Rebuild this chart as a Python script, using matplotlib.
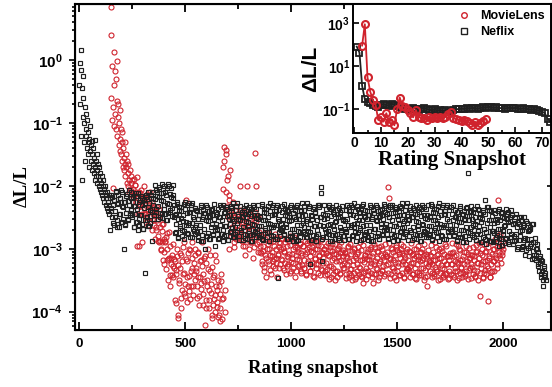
import numpy as np
import matplotlib.pyplot as plt
from matplotlib.lines import Line2D
from matplotlib.ticker import MultipleLocator, FixedLocator, NullLocator, LogLocator

plt.rcParams['font.family'] = 'Liberation Sans'
plt.rcParams['font.weight'] = 'bold'
plt.rcParams['mathtext.fontset'] = 'custom'
plt.rcParams['mathtext.rm'] = 'Liberation Sans:bold'
plt.rcParams['mathtext.bf'] = 'Liberation Sans:bold'
plt.rcParams['mathtext.default'] = 'bf'

# values below are log10(dL/L) * 100
# Netflix, snapshots 0..148 every 2
nf_head = [-40, -5, -70, -15, -120, 16, -45, -190, -90, -25, -60, -130, -100, -75, -160, -110,
           -85, -120, -140, -95, -150, -115, -130, -170, -125, -145, -105, -160, -135, -175, -150, -128,
           -165, -140, -180, -155, -127, -190, -170, -160, -185, -150, -175, -195, -165, -185, -200, -170,
           -190, -205, -180, -210, -195, -185, -215, -200, -220, -190, -205, -225, -210, -200, -230, -215,
           -220, -235, -210, -240, -225, -215, -245, -230, -220, -270, -235]
# Netflix, snapshots 150.. every 4
nf_body = [-215, -250, -230, -263, -223, -240, -210, -255, -227, -265, -220, -245, -207, -257, -233, -300, -261, -225, -243, -213, -253, -230, -247, -209, -238,
           -250, -218, -265, -232, -212, -258, -237, -270, -225, -246, -216, -260, -230, -268, -222, -338, -214, -254, -234, -264, -228, -248, -220, -287, -210,
           -220, -247, -199, -237, -209, -253, -217, -205, -243, -223, -251, -211, -231, -201, -245, -215, -255, -197, -229, -213, -241, -203, -235, -219, -249,
           -275, -245, -261, -229, -283, -239, -267, -251, -233, -279, -247, -271, -225, -257, -275, -231, -263, -241, -281, -237, -259, -227, -269, -253, -277,
           -238, -273, -253, -286, -246, -263, -233, -278, -250, -288, -243, -300, -230, -280, -256, -240, -284, -248, -266, -236, -276, -253, -270, -296, -261,
           -268, -236, -283, -250, -230, -276, -255, -288, -243, -264, -234, -278, -248, -286, -240, -260, -232, -272, -252, -282, -246, -266, -238, -274, -228,
           -253, -280, -232, -270, -242, -286, -250, -238, -276, -256, -284, -244, -264, -234, -278, -248, -288, -230, -262, -246, -274, -236, -268, -252, -282,
           -278, -248, -264, -232, -286, -242, -270, -254, -236, -282, -250, -274, -228, -260, -278, -234, -266, -244, -284, -240, -262, -230, -346, -256, -280,
           -261, -232, -270, -253, -276, -236, -266, -248, -284, -240, -256, -280, -230, -268, -243, -288, -250, -278, -233, -263, -246, -286, -253, -273, -238,
           -228, -274, -238, -266, -246, -282, -252, -272, -232, -260, -324, -286, -248, -278, -234, -264, -243, -288, -255, -276, -230, -250, -202, -212, -319,
           -282, -252, -268, -236, -274, -246, -262, -230, -288, -248, -278, -234, -264, -244, -284, -256, -276, -238, -250, -286, -242, -270, -232, -280, -253,
           -280, -256, -272, -230, -262, -240, -284, -244, -266, -234, -278, -260, -228, -274, -250, -282, -236, -254, -270, -242, -286, -232, -264, -248, -278,
           -238, -273, -253, -286, -246, -263, -233, -278, -250, -288, -243, -268, -230, -280, -256, -240, -284, -248, -266, -236, -276, -253, -270, -232, -261,
           -268, -236, -283, -250, -230, -276, -255, -288, -243, -264, -234, -278, -248, -286, -240, -260, -232, -272, -252, -282, -246, -266, -238, -274, -228,
           -253, -280, -232, -270, -242, -286, -250, -238, -276, -256, -284, -244, -264, -234, -278, -248, -288, -230, -262, -246, -274, -236, -268, -252, -282,
           -278, -248, -264, -232, -286, -242, -270, -254, -236, -282, -250, -274, -228, -260, -278, -234, -266, -244, -284, -240, -262, -230, -272, -256, -280,
           -263, -234, -272, -255, -278, -238, -268, -250, -286, -242, -258, -282, -232, -270, -245, -290, -252, -280, -235, -265, -248, -180, -255, -275, -240,
           -232, -278, -242, -270, -250, -286, -256, -276, -236, -264, -244, -290, -252, -282, -238, -268, -223, -292, -259, -280, -234, -254, -287, -240, -272,
           -289, -259, -275, -243, -281, -253, -269, -237, -295, -255, -285, -241, -271, -251, -291, -263, -283, -245, -257, -293, -249, -277, -239, -287, -260,
           -288, -259, -276, -245, -300, -257, -286, -271, -254, -301, -270, -295, -250, -283, -302, -259, -292, -271, -312, -269, -292, -261, -304, -289, -314,
           -290, -318, -300, -325, -305, -335, -312, -345, -320, -350, -330, -342, -338]
# Netflix, snapshots 152.. every 4 (the points in between)
nf_body2 = [-240, -217, -259, -223, -249, -208, -265, -229, -215, -245, -220, -257, -232, -210, -252, -226, -262, -216, -237, -224, -255, -206, -243, -219, -247,
            -226, -266, -232, -244, -216, -258, -212, -252, -262, -223, -246, -219, -268, -235, -228, -255, -217, -249, -210, -264, -238, -259, -214, -241, -230,
            -253, -221, -206, -241, -216, -232, -202, -250, -212, -197, -245, -224, -236, -209, -254, -203, -228, -243, -200, -238, -218, -248, -214, -198, -231,
            -246, -274, -226, -282, -252, -234, -264, -240, -270, -256, -229, -284, -237, -262, -243, -276, -228, -259, -241, -231, -281, -249, -271, -235, -266,
            -263, -240, -282, -246, -272, -231, -288, -252, -238, -268, -243, -280, -255, -233, -275, -249, -285, -239, -260, -247, -278, -229, -266, -242, -270,
            -244, -284, -250, -262, -234, -276, -230, -270, -280, -241, -264, -237, -286, -253, -246, -273, -235, -267, -228, -282, -256, -277, -232, -259, -248,
            -286, -254, -239, -274, -249, -265, -235, -283, -245, -230, -278, -257, -269, -242, -287, -236, -261, -276, -233, -271, -251, -281, -247, -231, -264,
            -249, -277, -229, -285, -255, -237, -267, -243, -273, -259, -232, -287, -240, -265, -246, -279, -231, -262, -244, -234, -284, -252, -274, -238, -269,
            -270, -242, -266, -229, -278, -247, -260, -239, -285, -249, -275, -233, -255, -280, -243, -268, -238, -252, -288, -231, -272, -246, -282, -240, -263,
            -248, -259, -232, -277, -256, -282, -228, -267, -235, -273, -246, -253, -286, -237, -264, -241, -280, -270, -230, -276, -234, -262, -250, -284, -244,
            -264, -231, -247, -281, -251, -271, -233, -276, -261, -236, -287, -242, -269, -257, -278, -230, -245, -283, -235, -265, -249, -274, -239, -254, -286,
            -269, -238, -274, -252, -284, -234, -244, -262, -231, -279, -246, -265, -240, -287, -232, -259, -273, -243, -267, -237, -255, -285, -229, -277, -249,
            -263, -240, -282, -246, -272, -231, -288, -252, -238, -268, -243, -280, -255, -233, -275, -249, -285, -239, -260, -247, -278, -229, -266, -242, -270,
            -244, -284, -250, -262, -234, -276, -230, -270, -280, -241, -264, -237, -286, -253, -246, -273, -235, -267, -228, -282, -256, -277, -232, -259, -248,
            -286, -254, -239, -274, -249, -265, -235, -283, -245, -230, -278, -257, -269, -242, -287, -236, -261, -276, -233, -271, -251, -281, -247, -231, -264,
            -249, -277, -229, -285, -255, -237, -267, -243, -273, -259, -232, -287, -240, -265, -246, -279, -231, -262, -244, -234, -284, -252, -274, -238, -269,
            -272, -244, -268, -231, -280, -249, -262, -241, -287, -251, -277, -235, -257, -282, -245, -270, -240, -254, -290, -233, -274, -248, -284, -242, -265,
            -252, -263, -236, -281, -260, -286, -232, -271, -239, -277, -250, -257, -290, -241, -268, -245, -284, -274, -234, -280, -238, -266, -254, -288, -248,
            -271, -238, -254, -288, -258, -278, -240, -283, -268, -243, -294, -249, -276, -264, -285, -237, -252, -290, -242, -272, -256, -281, -246, -261, -293,
            -279, -249, -286, -265, -298, -249, -260, -279, -249, -298, -266, -286, -262, -310, -256, -284, -299, -270, -295, -266, -285, -316, -261, -310, -283,
            -300, -310, -292, -328, -315, -322, -340, -318, -335, -360, -328, -345, -350]

# MovieLens, snapshots 148..246 every 2
ml_head = [85, -60, 40, -95, -10, -204, -75, 13, -105, -40,
           -85, -18, -110, -30, -65, -1, -120, -90, -70, -135,
           -100, -145, -80, -125, -150, -110, -160, -130, -115, -170,
           -140, -155, -175, -130, -165, -185, -150, -170, -195, -160,
           -180, -200, -165, -190, -210, -175, -205, -195, -215, -185]
# MovieLens, snapshots 250.. every 4
ml_body = [-190, -205, -215, -198, -225, -210, -295, -220, -232, -212, -240, -225, -290, -218, -245, -230, -250, -222, -238, -262, -228, -248, -240, -270, -235,
           -245, -262, -238, -270, -255, -280, -248, -290, -265, -300, -272, -318, -285, -305, -290, -332, -300, -350, -315, -295, -360, -325, -310, -345, -330,
           -320, -387, -340, -300, -410, -355, -330, -395, -310, -365, -340, -290, -375, -223, -345, -320, -360, -300, -380, -335, -315, -290, -360, -340, -310,
           -330, -360, -305, -345, -375, -320, -355, -290, -340, -390, -315, -421, -382, -350, -300, -365, -395, -335, -370, -410, -345, -380, -310, -400, -360,
           -393, -350, -405, -372, -415, -340, -380, -170, -138, -400, -210, -143, -190, -250, -223, -175, -280, -240, -265, -225, -290, -250, -232, -270, -245,
           -255, -275, -200, -285, -260, -295, -240, -270, -310, -250, -200, -280, -265, -300, -245, -290, -270, -315, -255, -285, -148, -200, -275, -305, -290,
           -280, -305, -270, -320, -295, -335, -285, -310, -345, -300, -275, -325, -310, -290, -340, -305, -320, -295, -330, -315, -300, -345, -310, -290, -325,
           -300, -318, -285, -330, -305, -290, -340, -312, -296, -325, -308, -280, -335, -315, -300, -322, -290, -345, -310, -298, -328, -305, -318, -292, -335,
           -310, -295, -330, -318, -288, -340, -305, -322, -298, -335, -312, -290, -328, -305, -345, -315, -300, -325, -290, -338, -310, -320, -296, -332, -305,
           -315, -300, -335, -322, -295, -340, -310, -328, -302, -345, -318, -292, -330, -308, -350, -320, -300, -335, -312, -295, -340, -318, -305, -330, -312,
           -322, -305, -340, -315, -298, -345, -320, -332, -308, -350, -318, -300, -338, -312, -345, -325, -305, -340, -318, -330, -302, -345, -354, -315, -335,
           -310, -330, -305, -342, -318, -300, -338, -322, -312, -354, -325, -298, -340, -315, -332, -305, -345, -320, -310, -335, -300, -328, -318, -340, -312,
           -305, -325, -202, -220, -315, -340, -300, -330, -318, -345, -310, -298, -335, -322, -305, -342, -315, -300, -338, -320, -310, -345, -325, -305, -332,
           -318, -335, -305, -345, -322, -310, -340, -315, -330, -300, -348, -325, -312, -338, -320, -305, -342, -318, -330, -310, -345, -322, -312, -359, -328,
           -320, -335, -312, -345, -325, -305, -340, -318, -332, -310, -350, -322, -300, -338, -315, -330, -345, -320, -308, -340, -325, -312, -348, -318, -335,
           -312, -340, -325, -305, -345, -320, -335, -310, -350, -322, -300, -338, -318, -330, -345, -312, -325, -340, -305, -335, -320, -348, -315, -330, -310,
           -325, -310, -340, -318, -345, -305, -335, -322, -350, -315, -375, -330, -310, -345, -320, -338, -305, -340, -318, -383, -330, -312, -345, -325, -335,
           -320, -300, -335, -310, -290, -325, -223, -305, -280, -315, -295, -310, -300]
# MovieLens, snapshots 252.. every 4 (the points in between)
ml_body2 = [-210, -189, -232, -198, -225, -186, -245, -210, -295, -229, -206, -245, -221, -201, -244, -220, -258, -213, -236, -224, -257, -210, -248, -226, -255,
            -233, -284, -247, -265, -234, -288, -236, -287, -302, -260, -290, -261, -324, -287, -282, -318, -275, -317, -273, -342, -314, -342, -292, -327, -317,
            -382, -334, -312, -405, -326, -350, -306, -378, -320, -298, -370, -338, -356, -316, -384, -307, -344, -367, -302, -360, -330, -374, -323, -300, -349,
            -336, -378, -306, -390, -345, -318, -364, -328, -372, -352, -311, -394, -323, -360, -332, -382, -310, -356, -329, -405, -389, -341, -374, -320, -366,
            -385, -408, -360, -395, -352, -412, -378, -205, -160, -365, -150, -232, -185, -300, -215, -260, -245, -275, -228, -298, -255, -238, -285, -262, -248,
            -280, -252, -276, -239, -288, -257, -270, -249, -295, -259, -285, -243, -265, -290, -253, -278, -248, -262, -298, -241, -282, -256, -292, -250, -273,
            -295, -306, -279, -324, -303, -329, -275, -314, -282, -320, -293, -300, -333, -284, -311, -288, -327, -317, -277, -323, -281, -309, -297, -331, -291,
            -316, -283, -299, -333, -303, -323, -285, -328, -313, -288, -339, -294, -321, -309, -330, -282, -297, -335, -287, -317, -301, -326, -291, -306, -338,
            -326, -295, -331, -309, -341, -291, -301, -319, -288, -336, -303, -322, -297, -344, -289, -316, -330, -300, -324, -294, -312, -342, -286, -334, -306,
            -323, -300, -342, -306, -332, -291, -348, -312, -298, -328, -303, -340, -315, -293, -335, -309, -345, -299, -320, -307, -338, -289, -326, -302, -330,
            -306, -346, -312, -324, -296, -338, -292, -332, -342, -303, -326, -299, -348, -315, -308, -335, -297, -329, -290, -344, -318, -339, -294, -321, -310,
            -348, -316, -301, -336, -311, -327, -297, -345, -307, -292, -340, -319, -331, -304, -349, -298, -323, -338, -295, -333, -313, -343, -309, -293, -326,
            -311, -339, -291, -347, -317, -299, -329, -305, -335, -321, -294, -349, -302, -327, -308, -341, -293, -324, -306, -296, -346, -314, -336, -300, -331,
            -332, -304, -328, -291, -340, -309, -322, -301, -347, -311, -337, -295, -317, -342, -305, -330, -300, -314, -350, -293, -334, -308, -344, -302, -325,
            -310, -321, -294, -339, -318, -344, -290, -329, -297, -335, -308, -315, -348, -299, -326, -303, -342, -332, -292, -338, -296, -324, -312, -346, -306,
            -324, -291, -307, -341, -311, -331, -293, -336, -321, -296, -347, -302, -329, -317, -338, -290, -305, -343, -295, -325, -309, -334, -299, -314, -346,
            -329, -298, -334, -312, -344, -294, -304, -322, -291, -339, -306, -325, -300, -347, -292, -319, -333, -303, -327, -297, -315, -345, -289, -337, -309,
            -300, -320, -285, -315, -298, -330, -290, -310, -276, -322, -295, -305, -288]

# inset, snapshots 1..73 (Netflix) and 3..49 (MovieLens)
nf_inset = [190, 162, 7, -55, -66, -74, -80, -85, -90, -80, -78, -82, -85, -76, -80, -88, -92, -95, -100, -98,
            -102, -95, -100, -105, -98, -94, -100, -104, -106, -102, -108, -105, -110, -106, -112, -108, -104, -100, -102, -98,
            -100, -96, -98, -95, -97, -99, -96, -92, -94, -90, -92, -95, -93, -97, -95, -98, -96, -94, -97, -95,
            -98, -100, -97, -99, -102, -104, -101, -106, -108, -112, -120, -145, -160]
ml_inset = [195, 294, 47, -19, -58, -81, -151, -136, -159, -120, -159, -151, -176, -102, -47, -86, -92, -105, -117, -139,
            -105, -136, -143, -143, -151, -136, -143, -139, -143, -136, -143, -136, -125, -112, -143, -148, -151, -154, -151, -154,
            -164, -174, -159, -174, -167, -154, -148]

red = '#d0232d'
blk = '#202020'

nf_x = np.concatenate([np.arange(0, 2 * len(nf_head), 2),
                       np.arange(150, 150 + 4 * len(nf_body), 4),
                       np.arange(152, 152 + 4 * len(nf_body2), 4)])
nf_y = 10 ** (np.array(nf_head + nf_body + nf_body2) / 100.0)
ml_x = np.concatenate([np.arange(148, 148 + 2 * len(ml_head), 2),
                       np.arange(250, 250 + 4 * len(ml_body), 4),
                       np.arange(252, 252 + 4 * len(ml_body2), 4)])
ml_y = 10 ** (np.array(ml_head + ml_body + ml_body2) / 100.0)

fig = plt.figure(figsize=(5.52, 3.87), dpi=100)
ax = fig.add_axes([75 / 552, 1 - 329.5 / 387, 476 / 552, 325.5 / 387])

ax.plot(ml_x, ml_y, 'o', mfc='none', mec=red, ms=3.6, mew=0.8)
ax.plot(nf_x, nf_y, 's', mfc='none', mec=blk, ms=3.3, mew=0.85)

ax.set_yscale('log')
ax.set_ylim(5.2e-5, 7.8)
ax.set_xlim(-20, 2225)
ax.xaxis.set_major_locator(MultipleLocator(500))
ax.xaxis.set_minor_locator(MultipleLocator(250))
ax.yaxis.set_major_locator(LogLocator(base=10, numticks=12))
ax.yaxis.set_minor_locator(LogLocator(base=10, subs=np.arange(2, 10), numticks=12))
ax.tick_params(axis='x', which='both', direction='in', top=True, width=1.3, labelsize=9.5, pad=6)
ax.tick_params(axis='x', which='major', length=6)
ax.tick_params(axis='x', which='minor', length=3.5)
ax.tick_params(axis='y', which='both', direction='out', right=False, width=1.2, labelsize=11, pad=5)
ax.tick_params(axis='y', which='major', length=4)
ax.tick_params(axis='y', which='minor', length=2.5)
for s in ax.spines.values():
    s.set_linewidth(1.5)

ax.set_xlabel('Rating snapshot', family='Liberation Serif', weight='bold', fontsize=13.5, labelpad=7)
ax.set_ylabel('ΔL/L', family='Liberation Serif', weight='bold', fontsize=13.5)
ax.yaxis.set_label_coords(-0.094, 0.44)

# right side ticks point inwards
ax_r = ax.twinx()
ax_r.set_yscale('log')
ax_r.set_ylim(ax.get_ylim())
ax_r.yaxis.set_major_locator(LogLocator(base=10, numticks=12))
ax_r.yaxis.set_minor_locator(NullLocator())
ax_r.tick_params(axis='y', direction='in', length=3, width=1.2, labelright=False)

# inset
axin = fig.add_axes([353 / 552, 1 - 133 / 387, 198 / 552, 129 / 387])
axin.plot(np.arange(1, 1 + len(nf_inset)), 10 ** (np.array(nf_inset) / 100.0), '-s', color=blk,
          mfc='none', ms=4.6, mew=1.3, lw=1.3)
axin.plot(np.arange(3, 3 + len(ml_inset)), 10 ** (np.array(ml_inset) / 100.0), '-o', color=red,
          mfc='none', ms=5, mew=1.5, lw=1.3)
axin.set_yscale('log')
axin.set_ylim(0.0076, 7600)
axin.set_xlim(-0.4, 73.3)
axin.yaxis.set_major_locator(FixedLocator([0.1, 10, 1000]))
axin.yaxis.set_minor_locator(NullLocator())
axin.xaxis.set_major_locator(MultipleLocator(10))
axin.xaxis.set_minor_locator(MultipleLocator(5))
axin.tick_params(which='both', direction='in', width=1.2, labelsize=10, pad=2)
axin.tick_params(which='major', length=4)
axin.tick_params(which='minor', length=2)
for s in axin.spines.values():
    s.set_linewidth(1.4)
axin.set_xlabel('Rating Snapshot', family='Liberation Serif', weight='bold', fontsize=15, labelpad=0)
axin.set_ylabel('ΔL/L', family='Liberation Sans', weight='bold', fontsize=15, labelpad=1)

handles = [Line2D([], [], marker='o', ls='none', mfc='none', mec=red, ms=4, mew=1.0),
           Line2D([], [], marker='s', ls='none', mfc='none', mec=blk, ms=3.8, mew=1.0)]
axin.legend(handles, ['MovieLens', 'Neflix'], loc='upper left', bbox_to_anchor=(459 / 552, 1 - 10 / 387),
            bbox_transform=fig.transFigure, frameon=False, fontsize=9, borderpad=0, borderaxespad=0,
            handlelength=0.8, handletextpad=0.9, labelspacing=0.35)

fig.savefig('out.png', dpi=100)
